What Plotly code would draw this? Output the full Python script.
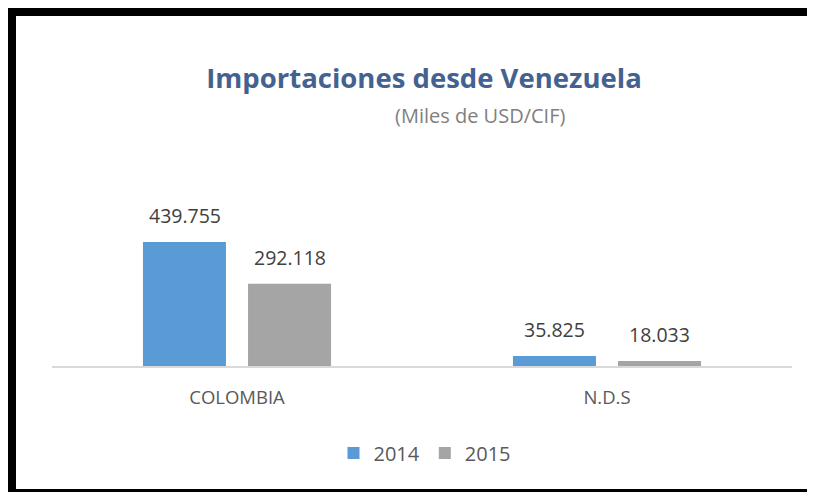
import plotly.graph_objs as go

# data (miles de USD/CIF)
categorias = ["COLOMBIA", "N.D.S"]
anios = ["2014", "2015"]
valores_2014 = [439755, 35825]
valores_2015 = [292118, 18033]
colores = ["#5B9BD5", "#A5A5A5"]

# page body has an 8px margin, so the figure is 8px smaller than the window
OFF = 8
W, H = 815 - OFF, 492 - OFF
ML, MR, MT, MB = 52 - OFF, 815 - 792, 180 - OFF, 492 - 366
pw, ph = W - ML - MR, H - MT - MB
font = "'Open Sans', Lato, sans-serif"
gris_txt = "#595959"


# screen pixel -> paper coords
def px_x(px):
    return (px - OFF - ML) / pw


def px_y(py):
    return (H - MB - (py - OFF)) / ph


fig = go.Figure()
for anio, vals, col in zip(anios, [valores_2014, valores_2015], colores):
    fig.add_trace(go.Bar(x=categorias, y=vals, name=anio,
                         marker=dict(color=col, line=dict(width=0))))

# data labels above each bar
anots = []
for i, vals in enumerate([valores_2014, valores_2015]):
    for cat, v in zip(categorias, vals):
        anots.append(dict(x=cat, y=v, xref="x", yref="y",
                          text=f"{v:,}".replace(",", "."),
                          showarrow=False, yanchor="bottom",
                          xshift=-52.5 if i == 0 else 52.5, yshift=11,
                          font=dict(family=font, size=19.5, color="#404040")))

anots.append(dict(x=px_x(480), y=px_y(115), xref="paper", yref="paper",
                  text="(Miles de USD/CIF)", showarrow=False,
                  xanchor="center", yanchor="middle",
                  font=dict(family=font, size=20, color="#7F7F7F")))

fig.update_layout(
    width=W, height=H,
    paper_bgcolor="white", plot_bgcolor="white",
    margin=dict(l=ML, r=MR, t=MT, b=MB),
    separators=",.",
    bargap=0.432, bargroupgap=0.21,
    title=dict(text="<b>Importaciones desde Venezuela</b>",
               x=(424 - OFF) / W, y=1 - (78 - OFF) / H,
               xref="container", yref="container",
               xanchor="center", yanchor="middle",
               font=dict(family=font, size=27.5, color="#44628F")),
    xaxis=dict(showline=True, linecolor="#D9D9D9", linewidth=2,
               ticks="", showgrid=False, ticklabelstandoff=14,
               tickfont=dict(family=font, size=18.5, color=gris_txt)),
    yaxis=dict(range=[0, 659600], visible=False, showgrid=False),
    legend=dict(orientation="h", x=px_x(425), y=px_y(453),
                xanchor="center", yanchor="middle", itemwidth=30,
                font=dict(family=font, size=20, color=gris_txt)),
    annotations=anots,
    shapes=[dict(type="rect", xref="paper", yref="paper",
                 x0=px_x(12), x1=px_x(1000), y0=px_y(12), y1=px_y(493),
                 line=dict(color="black", width=8), layer="below")],
)

fig.write_html("out.html")
